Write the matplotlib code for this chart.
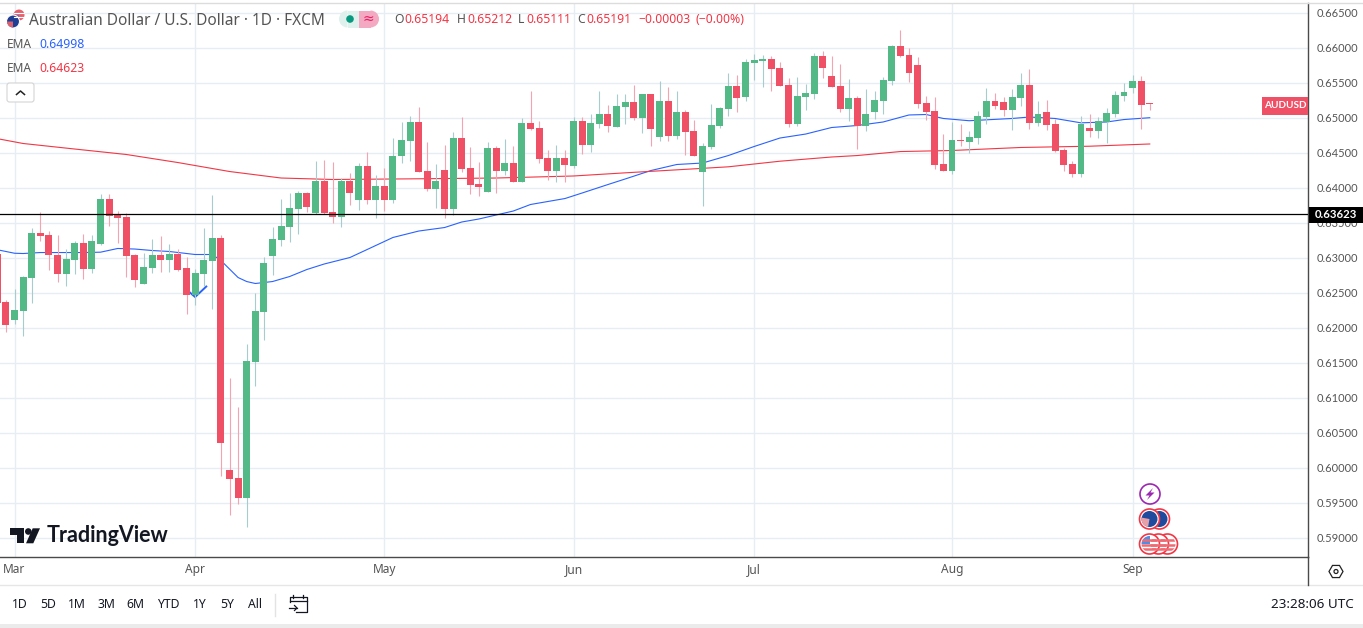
import numpy as np
import matplotlib
matplotlib.use('Agg')
import matplotlib.pyplot as plt
from matplotlib.patches import Circle, FancyBboxPatch, Polygon, Rectangle, Wedge

plt.rcParams['font.family'] = ['Noto Sans', 'DejaVu Sans']

# daily AUDUSD candles, first entry is the one cut off at the left edge
first_idx = -1
opens = [
    .63048, .62362, .62105, .62233, .62705, .63348, .63319, .63033, .62762, .62962,
    .63205, .62833, .6319, .63833, .63605, .63576, .63033, .62619, .62848, .63033,
    .62962, .63048, .62848, .62462, .62762, .62948, .63276, .59962, .59848, .59562,
    .61505, .62219, .63019, .63248, .63433, .6369, .63919, .63633, .6409, .63648,
    .63576, .6409, .63819, .64305, .63819, .64019, .63819, .64448, .64662, .64933,
    .64233, .63976, .64248, .6369, .64705, .64276, .64048, .63933, .64562, .64233,
    .64348, .64076, .64919, .64848, .64419, .64233, .64419, .64305, .64948, .64605,
    .64905, .65048, .64862, .65148, .65219, .6499, .65333, .64719, .65233, .64733,
    .65076, .64805, .64219, .64576, .64876, .65119, .65448, .6529, .65776, .65805,
    .65833, .65705, .65462, .64905, .6529, .65333, .65876, .6559, .65448, .65119,
    .65276, .64876, .65076, .65233, .65519, .66019, .6589, .65748, .65205, .6509,
    .64333, .64233, .64676, .64648, .64705, .65005, .65233, .65219, .65105, .65276,
    .65462, .64919, .65076, .64905, .64533, .64333, .6419, .64848, .64805, .64933,
    .65048, .65305, .65419, .65519, .65194,
]
highs = [
    .6310, .6239, .62548, .62733, .63419, .63648, .63376, .63319, .63119, .63233,
    .63333, .63319, .63905, .63905, .63662, .63633, .63057, .63062, .63262, .63305,
    .6319, .63119, .63005, .62833, .63419, .6389, .63319, .61276, .60862, .61762,
    .6249, .63005, .63433, .63833, .63919, .63948, .63933, .64376, .6439, .64362,
    .64133, .64205, .64348, .64505, .64176, .64276, .64705, .64933, .65019, .65148,
    .64648, .64333, .64605, .6479, .65005, .64576, .64362, .64648, .6459, .6469,
    .6459, .6499, .65376, .64948, .64533, .64605, .64533, .65005, .65005, .65048,
    .65376, .65176, .65333, .65333, .65462, .65333, .65333, .65519, .65433, .65376,
    .65105, .64962, .64633, .6519, .65148, .65633, .65605, .65833, .65905, .6589,
    .65876, .6579, .65562, .65576, .65476, .65919, .65948, .65876, .65762, .65548,
    .65305, .65405, .65376, .65576, .66033, .66248, .6599, .65862, .65305, .6529,
    .64762, .64933, .64905, .64805, .6509, .65419, .65348, .6529, .65405, .65633,
    .6569, .65233, .65248, .64976, .64562, .64376, .65019, .65048, .65005, .65133,
    .65376, .6549, .65605, .6559, .65212,
]
lows = [
    .6230, .61933, .62048, .61876, .62348, .63233, .62819, .62648, .6259, .62762,
    .6269, .62776, .63176, .63448, .63205, .62719, .62576, .62619, .62776, .6279,
    .6279, .62805, .6219, .62319, .6259, .62262, .59881, .59319, .59476, .59148,
    .61167, .61819, .62748, .63162, .63219, .63333, .63648, .63619, .63619, .6349,
    .63433, .63748, .63676, .63762, .63562, .63662, .63776, .64348, .64376, .64219,
    .63948, .63705, .63562, .63605, .64219, .63905, .63876, .63933, .63919, .64176,
    .64076, .64076, .64819, .64348, .64105, .64076, .64076, .64276, .64476, .64505,
    .64848, .6479, .64862, .64905, .64962, .64776, .6459, .64662, .64662, .6469,
    .64462, .64448, .63733, .64548, .64848, .65019, .65076, .65233, .65533, .65433,
    .65376, .65448, .64862, .64876, .65105, .65262, .65562, .65433, .65076, .64948,
    .64548, .64805, .64976, .65048, .65462, .65862, .65505, .65133, .64962, .64262,
    .64233, .6419, .6459, .6449, .64619, .64905, .65119, .65019, .64819, .65162,
    .64833, .64876, .64819, .64505, .64233, .64148, .64148, .64719, .64705, .64633,
    .65005, .65233, .65348, .64833, .65111,
]
closes = [
    .62357, .62033, .62248, .62719, .63348, .63305, .63033, .62762, .62976, .63205,
    .62833, .63233, .63833, .6359, .63562, .63019, .62676, .62862, .63033, .62962,
    .63048, .62819, .62462, .62776, .62962, .63276, .60348, .59833, .59562, .61519,
    .62233, .62919, .63262, .63448, .63705, .63919, .63719, .6409, .63633, .63576,
    .6409, .63919, .64305, .63819, .64019, .63819, .64448, .64676, .64933, .64219,
    .63976, .6409, .6369, .64705, .64262, .64033, .64005, .64562, .64233, .64348,
    .64076, .64919, .64833, .64405, .64233, .64419, .64319, .64948, .64605, .64919,
    .65048, .64876, .65162, .65219, .6499, .65333, .64833, .65233, .64733, .65076,
    .6479, .64448, .6459, .6489, .65133, .65448, .65276, .6579, .65819, .65833,
    .6569, .65448, .64905, .65305, .65348, .65876, .65705, .65433, .65119, .65276,
    .64876, .65048, .65248, .65533, .66019, .65876, .65633, .6519, .65076, .64319,
    .64233, .64676, .64662, .64719, .65019, .65233, .65162, .65105, .6529, .65462,
    .64919, .65048, .6489, .64519, .64319, .6419, .64905, .64805, .64948, .65062,
    .65319, .65362, .65519, .65176, .65191,
]

# moving averages read at selected bars
ema50_idx = [-2, 1, 2, 4, 9, 11, 13, 15, 17, 19, 22, 24, 25, 27, 28, 29, 31, 33, 35, 37, 40, 42, 45, 48,
             51, 53, 55, 59, 61, 65, 67, 70, 72, 75, 78, 81, 84, 87, 90, 93, 96, 99, 102, 105, 107, 109,
             112, 117, 119, 122, 125, 128, 130, 133]
ema50 = [.63138, .63063, .63059, .63073, .63073, .63078, .63131, .63123, .63102, .63088, .63045, .63045,
         .62959, .62716, .62659, .62631, .62659, .62731, .62831, .62909, .63002, .63116, .63288, .6338,
         .6343, .63509, .63552, .63666, .63759, .63844, .63923, .64044, .64123, .64244, .6433, .64351,
         .64458, .64587, .64708, .64765, .64858, .64887, .64937, .65037, .65044, .64987, .64955, .64987,
         .65008, .64987, .64925, .64937, .64972, .64998]
ema200_idx = [-2, 2, 8, 14, 20, 26, 32, 38, 48, 57, 66, 72, 80, 84, 90, 96, 99, 104, 110, 118, 126, 133]
ema200 = [.64722, .6463, .64551, .64473, .64358, .6423, .64137, .64116, .64126, .64137, .64166, .64211,
          .64268, .64297, .64377, .64437, .64458, .64515, .6453, .64573, .64591, .64623]

# small hand-drawn trend mark near the April low
mark_idx = [21.4, 22, 23.3]
mark_px = [.62502, .62438, .62588]

level = 0.63623
price_ticks = [round(0.59 + 0.005 * i, 3) for i in range(16)]
month_idx = [1, 22, 44, 66, 87, 110, 131]
month_names = ['Mar', 'Apr', 'May', 'Jun', 'Jul', 'Aug', 'Sep']
range_buttons = ['1D', '5D', '1M', '3M', '6M', 'YTD', '1Y', '5Y', 'All']
range_x = [20, 48, 77, 106, 135, 168, 200, 227, 255]

UP = '#53b987'
DOWN = '#ef5065'
UP_WICK = '#a6ccd0'
DOWN_WICK = '#f6a3b1'
GRID = '#e6edf3'
AXIS = '#4a4a4a'
LABEL = '#555555'
BLUE = '#2962ff'
RED = '#f23645'

W, H = 1363, 628
fig = plt.figure(figsize=(W / 100, H / 100), dpi=100, facecolor='white')

# price pane: x is bar number, y is price
top, bottom, right = 2.5, 557, 1308
ax = fig.add_axes([0, 1 - bottom / H, right / W, (bottom - top) / H])
ax.set_xlim(-0.686, 151.4)
ax.set_ylim(.58726, .66643)
ax.set_facecolor('white')
for s in ['top', 'left']:
    ax.spines[s].set_visible(False)
for s in ['right', 'bottom']:
    ax.spines[s].set_color(AXIS)
    ax.spines[s].set_linewidth(1.0)

ax.yaxis.tick_right()
ax.set_yticks(price_ticks)
ax.set_yticklabels(['%.5f' % p for p in price_ticks], family=['Lato', 'DejaVu Sans'], fontsize=8)
ax.set_xticks(month_idx)
ax.set_xticklabels(month_names, fontsize=8.6)
ax.tick_params(axis='both', length=0, labelcolor=LABEL)
ax.tick_params(axis='y', pad=6.5)
ax.tick_params(axis='x', pad=4.5)
ax.grid(True, color=GRID, linewidth=1.0, zorder=0)
ax.set_axisbelow(True)

ax.plot(ema50_idx, ema50, color=BLUE, linewidth=0.8, zorder=2)
ax.plot(ema200_idx, ema200, color=RED, linewidth=0.8, zorder=2)
ax.plot(mark_idx, mark_px, color=BLUE, linewidth=1.4, zorder=2)

idx = np.arange(first_idx, first_idx + len(opens))
o = np.array(opens)
h = np.array(highs)
l = np.array(lows)
c = np.array(closes)
rising = c >= o

ax.vlines(idx[rising], l[rising], h[rising], color=UP_WICK, linewidth=0.8, zorder=3)
ax.vlines(idx[~rising], l[~rising], h[~rising], color=DOWN_WICK, linewidth=0.8, zorder=3)
# the last bar is almost flat, give the body a minimum height so it still shows
body = np.maximum(np.abs(c - o), 0.00012)
ax.bar(idx, body, bottom=np.minimum(o, c), width=0.8,
       color=[UP if r else DOWN for r in rising], linewidth=0, zorder=3)

ax.axhline(level, color='black', linewidth=0.9, zorder=4)

# window furniture drawn in pixel coordinates
ui = fig.add_axes([0, 0, 1, 1], facecolor='none')
ui.set_xlim(0, W)
ui.set_ylim(H, 0)
ui.axis('off')

ui.plot([0, W], [2.5, 2.5], color='#dcdcdc', linewidth=1)
ui.plot([0, W], [585, 585], color='#e6e6e6', linewidth=1)
ui.plot([right, right], [557, 585], color=AXIS, linewidth=1)
ui.add_patch(Rectangle((0, 624), W, 4, color='#ebebeb', linewidth=0))

# pair flags
ui.add_patch(Circle((19, 15), 5.5, color='#e8606c', linewidth=0))
ui.add_patch(Wedge((19, 15), 5.5, 90, 180, color='#3f7fe0', linewidth=0))
ui.plot([14, 24], [13, 13], color='white', linewidth=0.8)
ui.plot([14, 24], [17, 17], color='white', linewidth=0.8)
ui.add_patch(Circle((13, 21.5), 6.5, color='#1f3f94', ec='white', linewidth=0.8))
ui.add_patch(Wedge((13, 21.5), 6, 90, 180, color='#d9606c', linewidth=0))

ui.text(29, 20.8, 'Australian Dollar / U.S. Dollar · 1D · FXCM', fontsize=11.1, color=LABEL, va='center')

# market status pill
ui.add_patch(Wedge((370.5, 19), 8.5, -90, 90, color='#f3a9c2', linewidth=0))
ui.add_patch(Rectangle((359, 10.5), 12, 17, color='#f3a9c2', linewidth=0))
ui.add_patch(Rectangle((347.5, 10.5), 11.5, 17, color='#dff1ec', linewidth=0))
ui.add_patch(Wedge((347.5, 19), 8.5, 90, 270, color='#dff1ec', linewidth=0))
ui.add_patch(Circle((350, 19), 3.8, color='#089981', linewidth=0))
ui.text(368, 19, '≈', fontsize=10, color='#e91e63', ha='center', va='center')

# OHLC readout
readout = [(394, 'O', LABEL), (404, '0.65194', RED), (457, 'H', LABEL), (467, '0.65212', RED),
           (518, 'L', LABEL), (526, '0.65111', RED), (577, 'C', LABEL), (586, '0.65191', RED),
           (638, '−0.00003', RED), (695, '(−0.00%)', RED)]
for x, s, col in readout:
    ui.text(x, 19.5, s, fontsize=8.8, color=col, va='center')

# indicator legend
ui.text(7, 44, 'EMA', fontsize=8.6, color=LABEL, va='center')
ui.text(39, 44, '0.64998', fontsize=8.8, color=BLUE, va='center')
ui.text(7, 68, 'EMA', fontsize=8.6, color=LABEL, va='center')
ui.text(39, 68, '0.64623', fontsize=8.8, color=RED, va='center')
ui.add_patch(FancyBboxPatch((7, 83), 27, 19, boxstyle='round,pad=0,rounding_size=2.5',
                            fc='white', ec='#d4d4d4', linewidth=0.8))
ui.plot([16.5, 20.5, 24.5], [94.5, 91, 94.5], color='#222222', linewidth=1.1)

# price tags on the scale
ui.add_patch(Rectangle((1262, 97), 46, 17.5, color=DOWN, linewidth=0))
ui.text(1285, 105.8, 'AUDUSD', fontsize=7.2, color='white', fontweight='bold',
        family=['Lato', 'DejaVu Sans'], ha='center', va='center')
ui.add_patch(Rectangle((1309, 206.5), 54, 16, color='black', linewidth=0))
ui.text(1336, 214.5, '0.63623', fontsize=8.2, color='white', fontweight='bold',
        family=['Lato', 'DejaVu Sans'], ha='center', va='center')

# logo
logo_t = [(10, 528.3), (24, 528.3), (24, 543.3), (17.3, 543.3), (17.3, 535), (10, 535)]
logo_slash = [(26, 543.3), (33.3, 543.3), (40, 528.3), (32.7, 528.3)]
ui.add_patch(Polygon(logo_t, color='#131722', linewidth=0))
ui.add_patch(Polygon(logo_slash, color='#131722', linewidth=0))
ui.add_patch(Circle((28.3, 531.5), 3.3, color='#131722', linewidth=0))
ui.text(47, 536, 'TradingView', fontsize=15.5, color='#131722', fontweight='bold',
        family=['Lato', 'DejaVu Sans'], va='center')

# event markers
ui.add_patch(Circle((1150, 494), 10, fc='white', ec='#9c27b0', linewidth=1.2))
ui.add_patch(Polygon([(1153, 488), (1145.5, 495.5), (1149.5, 495.5), (1147, 500), (1154.5, 492.5), (1150.5, 492.5)],
                     color='#9c27b0', linewidth=0))
for x in [1159.5, 1149.5]:
    ui.add_patch(Circle((x, 519), 10, fc='white', ec='#f23645', linewidth=1.2))
    ui.add_patch(Circle((x, 519), 8, color='#1f4a9e', linewidth=0))
ui.add_patch(Wedge((1149.5, 519), 8, 100, 190, color='#e8a0a8', linewidth=0))
for x in [1167.5, 1158.5, 1149.5]:
    ring = Circle((x, 544), 10, fc='white', ec='#f23645', linewidth=1.2)
    ui.add_patch(ring)
    for yy in [540, 544.5, 549]:
        stripe = ui.plot([x - 8, x + 8], [yy, yy], color='#ef6a72', linewidth=1.8)[0]
        stripe.set_clip_path(Circle((x, 544), 8, transform=ui.transData))
canton = Rectangle((1141, 536), 8.5, 7.5, color='#4a8fe8', linewidth=0)
ui.add_patch(canton)
canton.set_clip_path(Circle((1149.5, 544), 8, transform=ui.transData))

# settings gear on the scale corner
ang = np.deg2rad(np.arange(0, 360, 60))
ui.add_patch(Polygon(np.c_[1336 + 7 * np.cos(ang), 571.5 + 7 * np.sin(ang)], fc='white', ec='#222222', linewidth=0.9))
ui.add_patch(Circle((1336, 571.5), 2, fc='white', ec='#222222', linewidth=0.9))

# bottom toolbar
for x, s in zip(range_x, range_buttons):
    ui.text(x, 605, s, fontsize=8.8, color='#131722', ha='center', va='center')
ui.plot([274.5, 274.5], [594, 616], color='#e3e3e3', linewidth=1)
ui.plot([290, 290, 306.5, 306.5, 296], [602, 596.5, 596.5, 612, 612], color='#131722', linewidth=0.9)
ui.plot([290, 306.5], [600.5, 600.5], color='#131722', linewidth=0.9)
ui.plot([293, 293], [594.5, 598], color='#131722', linewidth=0.9)
ui.plot([303, 303], [594.5, 598], color='#131722', linewidth=0.9)
ui.plot([289, 297], [608, 608], color='#131722', linewidth=0.9)
ui.plot([294.5, 297, 294.5], [605.5, 608, 610.5], color='#131722', linewidth=0.9)
ui.text(1354, 605, '23:28:06 UTC', fontsize=9.7, color='#131722', ha='right', va='center')

fig.savefig('out.png', dpi=100, facecolor='white')
